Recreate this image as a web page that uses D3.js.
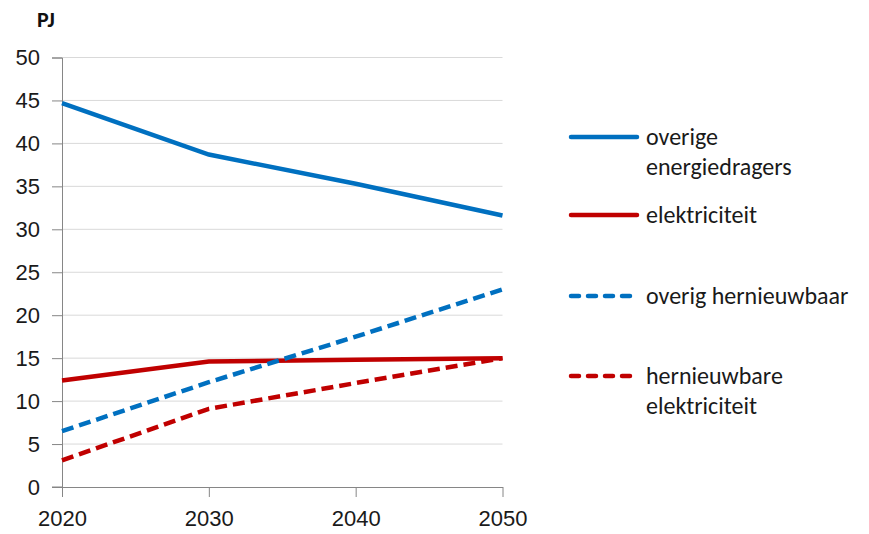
<!DOCTYPE html>
<html>
<head>
<meta charset="utf-8">
<script src="https://cdn.jsdelivr.net/npm/d3@7"></script>
<style>
  body { margin: 0; background: #fff; }
  svg { font-family: Carlito, Lato, 'Open Sans', sans-serif; }
</style>
</head>
<body>
<svg id="chart" width="869" height="534"></svg>
<script>
const years = [2020, 2030, 2040, 2050]
const yTicks = [0, 5, 10, 15, 20, 25, 30, 35, 40, 45, 50]

const overigeEnergiedragers = [44.7, 38.7, 35.3, 31.6]
const elektriciteit = [12.4, 14.6, 14.8, 15.0]
const overigHernieuwbaar = [6.5, 12.2, 17.5, 23.0]
const hernieuwbareElektriciteit = [3.1, 9.1, 12.1, 15.0]

const seriesNames = [
  ['overige', 'energiedragers'],
  ['elektriciteit'],
  ['overig hernieuwbaar'],
  ['hernieuwbare', 'elektriciteit']
]

const blue = '#0070c0'
const red = '#c00000'

const series = [
  { values: overigeEnergiedragers, color: blue, dash: null, legendY: 137 },
  { values: elektriciteit, color: red, dash: null, legendY: 215 },
  { values: overigHernieuwbaar, color: blue, dash: '12,6', legendY: 296 },
  { values: hernieuwbareElektriciteit, color: red, dash: '12,6', legendY: 376 }
]

const svg = d3.select('#chart')
const margin = { top: 57.5, left: 62 }

const x = d3.scaleLinear()
  .domain([2020, 2050])
  .range([margin.left, 502.5])

const y = d3.scaleLinear()
  .domain([0, 50])
  .range([487, margin.top])

// gridlines
svg.append('g')
  .selectAll('line')
  .data(yTicks.filter(d => d > 0))
  .join('line')
    .attr('x1', x(2020))
    .attr('x2', x(2050))
    .attr('y1', d => y(d))
    .attr('y2', d => y(d))
    .attr('stroke', '#d9d9d9')
    .attr('stroke-width', 1)

const yAxis = g => g
  .attr('transform', `translate(${margin.left},0)`)
  .call(d3.axisLeft(y).tickValues(yTicks).tickSize(10).tickPadding(12))
  .call(g => g.selectAll('.domain').attr('stroke', '#868686'))
  .call(g => g.selectAll('.tick line').attr('stroke', '#868686'))
  .call(g => g.selectAll('.tick text')
    .attr('font-size', 22).attr('fill', '#1a1a1a').attr('font-family', null))

const xAxis = g => g
  .attr('transform', `translate(0,${y(0)})`)
  .call(d3.axisBottom(x).tickValues(years).tickFormat(d3.format('d')).tickSize(10).tickSizeOuter(0).tickPadding(13))
  .call(g => g.selectAll('.domain').attr('stroke', '#868686'))
  .call(g => g.selectAll('.tick line').attr('stroke', '#868686'))
  .call(g => g.selectAll('.tick text')
    .attr('font-size', 22).attr('fill', '#1a1a1a').attr('font-family', null))

svg.append('g').call(yAxis)
svg.append('g').call(xAxis)

// left extension of x axis
svg.append('line')
  .attr('x1', margin.left - 10).attr('x2', margin.left)
  .attr('y1', y(0)).attr('y2', y(0))
  .attr('stroke', '#868686')

svg.append('text')
  .attr('x', 37)
  .attr('y', 27)
  .style('font-size', '22px')
  .style('font-weight', 'bold')
  .attr('fill', '#111')
  .text('PJ')

const line = d3.line()
  .x((d, i) => x(years[i]))
  .y(d => y(d))

const g = svg.append('g')
series.forEach(s => {
  g.append('path')
    .datum(s.values)
    .attr('fill', 'none')
    .attr('stroke', s.color)
    .attr('stroke-width', 4.5)
    .attr('stroke-dasharray', s.dash)
    .attr('d', line)
})

// legend
const legend = svg.append('g')
series.forEach((s, i) => {
  legend.append('line')
    .attr('x1', 571).attr('x2', 637)
    .attr('y1', s.legendY).attr('y2', s.legendY)
    .attr('stroke', s.color)
    .attr('stroke-width', 4.5)
    .attr('stroke-linecap', 'round')
    .attr('stroke-dasharray', s.dash ? '8,9' : null)
  seriesNames[i].forEach((t, j) => {
    legend.append('text')
      .attr('x', 646)
      .attr('y', s.legendY + 8 + j * 30)
      .attr('font-size', 24)
      .attr('fill', '#1a1a1a')
      .text(t)
  })
})
</script>
</body>
</html>
